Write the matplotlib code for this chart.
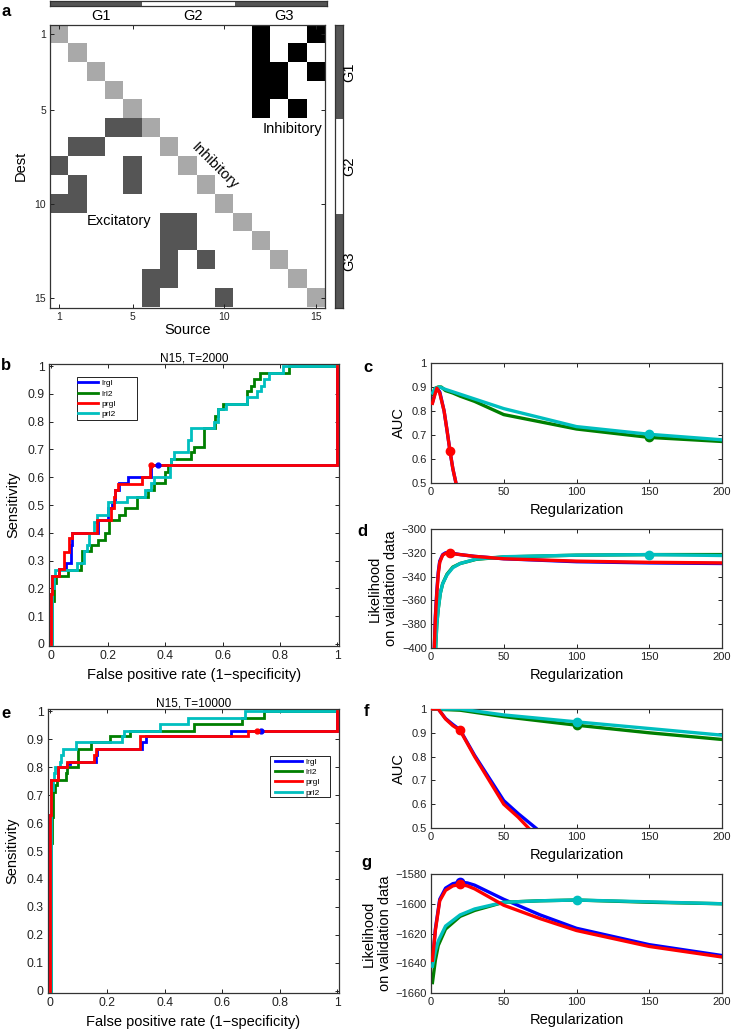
import matplotlib
matplotlib.use('Agg')
import matplotlib.pyplot as plt
import numpy as np
from matplotlib.colors import ListedColormap
from matplotlib.patches import Rectangle

plt.rcParams['font.family'] = ['Liberation Sans', 'DejaVu Sans']
plt.rcParams['axes.linewidth'] = 0.9
plt.rcParams['axes.edgecolor'] = '#333333'

# ---------------- data ----------------
n_nodes = 15
excitatory = [(6, 4), (6, 5), (7, 2), (7, 3), (8, 1), (8, 5), (9, 2), (9, 5), (10, 1), (10, 2),
              (11, 7), (11, 8), (12, 7), (12, 8), (13, 7), (13, 9), (14, 6), (14, 7), (15, 6), (15, 10)]
inhibitory = [(1, 12), (1, 15), (2, 12), (2, 14), (3, 12), (3, 13), (3, 15), (4, 12), (4, 13),
              (5, 12), (5, 14)]
groups = ['G1', 'G2', 'G3']
group_edges = [0.5, 5.5, 10.5, 15.5]
group_colors = ['#555555', 'white', '#555555']

series = ['lrgl', 'lrl2', 'prgl', 'prl2']
colors = {'lrgl': '#0000ff', 'lrl2': '#007f00', 'prgl': '#ff0000', 'prl2': '#00bfbf'}

# ROC, T=2000 (steps-post vertices)
roc1_x = {
    'lrgl': [0, 0, 0.005, 0.03, 0.055, 0.07, 0.075, 0.165, 0.2, 0.215, 0.225, 0.237, 0.268, 0.35, 1.0],
    'lrl2': [0, 0.005, 0.012, 0.02, 0.06, 0.105, 0.11, 0.14, 0.165, 0.19, 0.205, 0.24, 0.26, 0.30, 0.34,
             0.36, 0.40, 0.41, 0.42, 0.49, 0.50, 0.535, 0.575, 0.585, 0.60, 0.685, 0.70, 0.71, 0.73, 0.83, 1.0],
    'prgl': [0, 0, 0.005, 0.03, 0.045, 0.065, 0.075, 0.16, 0.212, 0.22, 0.225, 0.235, 0.32, 0.345, 1.0],
    'prl2': [0, 0.005, 0.01, 0.015, 0.09, 0.115, 0.125, 0.135, 0.15, 0.16, 0.2, 0.265, 0.33, 0.35, 0.36,
             0.415, 0.42, 0.43, 0.48, 0.49, 0.57, 0.585, 0.61, 0.685, 0.72, 0.735, 0.745, 0.76, 0.81, 1.0],
}
roc1_y = {
    'lrgl': [0, 0.18, 0.245, 0.27, 0.29, 0.355, 0.40, 0.445, 0.49, 0.51, 0.555, 0.58, 0.60, 0.645, 1.0],
    'lrl2': [0, 0.155, 0.22, 0.245, 0.265, 0.29, 0.335, 0.355, 0.375, 0.40, 0.445, 0.465, 0.49, 0.53, 0.555,
             0.58, 0.62, 0.645, 0.665, 0.69, 0.71, 0.778, 0.822, 0.845, 0.865, 0.91, 0.93, 0.955, 0.975, 1.0, 1.0],
    'prgl': [0, 0.18, 0.245, 0.27, 0.33, 0.38, 0.40, 0.445, 0.49, 0.53, 0.555, 0.575, 0.60, 0.645, 1.0],
    'prl2': [0, 0.2, 0.245, 0.265, 0.29, 0.335, 0.355, 0.40, 0.44, 0.465, 0.51, 0.53, 0.555, 0.58, 0.60,
             0.645, 0.665, 0.69, 0.735, 0.778, 0.80, 0.845, 0.865, 0.89, 0.91, 0.93, 0.955, 0.975, 1.0, 1.0],
}
roc1_pts = {'lrgl': (0.375, 0.645), 'prgl': (0.35, 0.645)}

# ROC, T=10000
roc2_x = {
    'lrgl': [0, 0, 0.003, 0.03, 0.06, 0.07, 0.16, 0.165, 0.32, 0.335, 0.63, 1.0],
    'lrl2': [0, 0.005, 0.008, 0.01, 0.02, 0.025, 0.055, 0.06, 0.1, 0.1, 0.145, 0.21, 0.28, 0.5, 0.67, 0.745, 1.0],
    'prgl': [0, 0, 0.003, 0.03, 0.06, 0.155, 0.16, 0.315, 0.69, 1.0],
    'prl2': [0, 0.003, 0.005, 0.01, 0.012, 0.015, 0.02, 0.035, 0.04, 0.045, 0.09, 0.25, 0.26, 0.385, 0.48,
             0.68, 1.0],
}
roc2_y = {
    'lrgl': [0, 0.63, 0.755, 0.80, 0.81, 0.82, 0.845, 0.865, 0.89, 0.91, 0.93, 1.0],
    'lrl2': [0, 0.53, 0.62, 0.71, 0.735, 0.755, 0.78, 0.80, 0.845, 0.865, 0.89, 0.91, 0.93, 0.955, 0.975, 1.0, 1.0],
    'prgl': [0, 0.63, 0.755, 0.80, 0.82, 0.845, 0.865, 0.91, 0.93, 1.0],
    'prl2': [0, 0.6, 0.72, 0.74, 0.755, 0.78, 0.80, 0.82, 0.845, 0.865, 0.89, 0.91, 0.93, 0.955, 0.975,
             1.0, 1.0],
}
roc2_pts = {'lrgl': (0.735, 0.93), 'prgl': (0.72, 0.93)}

# AUC vs regularization, T=2000
auc1_x = {
    'lrgl': [1, 3, 4, 6, 9, 11, 13, 15, 17.5],
    'lrl2': [1, 3, 5, 7, 10, 15, 20, 30, 50, 75, 100, 150, 200],
    'prgl': [1, 3, 4, 6, 9, 11, 13, 15, 17.5],
    'prl2': [1, 3, 6, 10, 20, 50, 100, 150, 200],
}
auc1_y = {
    'lrgl': [0.835, 0.88, 0.895, 0.88, 0.80, 0.72, 0.635, 0.56, 0.49],
    'lrl2': [0.87, 0.895, 0.90, 0.90, 0.885, 0.875, 0.862, 0.84, 0.785, 0.755, 0.725, 0.69, 0.673],
    'prgl': [0.832, 0.875, 0.895, 0.875, 0.80, 0.72, 0.635, 0.56, 0.49],
    'prl2': [0.875, 0.895, 0.90, 0.89, 0.87, 0.81, 0.735, 0.703, 0.68],
}
auc1_pts = {'prgl': (13, 0.635), 'lrl2': (150, 0.69), 'prl2': (150, 0.703)}

# Likelihood, T=2000
lik1_x = {
    'lrgl': [2, 3, 4, 5, 6, 8, 10, 13, 20, 30, 50, 100, 150, 200],
    'lrl2': [2.8, 4, 5, 6.4, 8, 11, 15, 20, 31, 50, 100, 150, 200],
    'prgl': [2, 3, 4, 5, 6, 8, 10, 13, 20, 30, 50, 100, 150, 200],
    'prl2': [2.8, 4, 5, 6.4, 8, 11, 15, 20, 31, 50, 100, 150, 200],
}
lik1_y = {
    'lrgl': [-410, -373, -352, -336, -327, -321.5, -320, -320, -321.5, -323, -325, -327.5, -328.5, -329],
    'lrl2': [-410, -380, -367, -354, -346, -338, -332, -329, -325.5, -323.5, -322, -321.5, -321.5],
    'prgl': [-410, -375, -354, -338, -328, -322, -320.5, -320.5, -321.5, -323, -325, -327, -328, -328.5],
    'prl2': [-410, -380, -367, -354, -346, -338.5, -332.5, -329, -325.3, -323.3, -322, -321.5, -322.3],
}
lik1_pts = {'prgl': (13, -320.5), 'prl2': (150, -321.5)}

# AUC, T=10000
auc2_x = {
    'lrgl': [0, 5, 10, 15, 20, 30, 40, 50, 60, 72],
    'lrl2': [0, 20, 50, 100, 150, 200],
    'prgl': [0, 5, 10, 15, 20, 30, 40, 50, 60, 67],
    'prl2': [0, 20, 50, 100, 150, 200],
}
auc2_y = {
    'lrgl': [1.0, 1.0, 0.96, 0.935, 0.912, 0.805, 0.71, 0.615, 0.56, 0.5],
    'lrl2': [1.0, 0.995, 0.968, 0.932, 0.90, 0.872],
    'prgl': [1.0, 1.0, 0.958, 0.93, 0.91, 0.80, 0.70, 0.60, 0.545, 0.5],
    'prl2': [1.0, 1.0, 0.975, 0.946, 0.918, 0.89],
}
auc2_pts = {'prgl': (20, 0.91), 'lrl2': (100, 0.932), 'prl2': (100, 0.947)}

# Likelihood, T=10000
lik2_x = {
    'lrgl': [1, 3, 6, 10, 15, 20, 25, 30, 50, 75, 100, 150, 200],
    'lrl2': [1, 3, 5, 10, 20, 30, 50, 75, 100, 150, 200],
    'prgl': [1, 3, 6, 10, 15, 20, 25, 30, 50, 75, 100, 150, 200],
    'prl2': [1, 3, 5, 10, 20, 30, 50, 75, 100, 150, 200],
}
lik2_y = {
    'lrgl': [-1640, -1617, -1597, -1589.5, -1586.5, -1585.5, -1586, -1587.5, -1597, -1607.5, -1616.5, -1627.5, -1634.8],
    'lrl2': [-1653, -1638, -1628, -1617, -1608.5, -1604.5, -1599, -1598, -1597.5, -1599, -1600],
    'prgl': [-1638, -1618, -1598, -1591, -1588, -1587, -1588, -1590, -1601, -1610, -1618, -1628.7, -1635.8],
    'prl2': [-1642, -1632, -1625, -1615, -1607.5, -1603.5, -1599, -1598, -1597.5, -1598.7, -1600],
}
lik2_pts = {'lrgl': (20, -1585.5), 'prgl': (20, -1587), 'prl2': (100, -1597.5)}

# ---------------- figure ----------------
W, H = 733, 1031
fig = plt.figure(figsize=(W / 100, H / 100), dpi=100)


def add_ax(x0, y0, x1, y1):
    return fig.add_axes([x0 / W, 1 - y1 / H, (x1 - x0) / W, (y1 - y0) / H])


def ftext(x, y, s, **kw):
    fig.text(x / W, 1 - y / H, s, **kw)


def style(ax, size=8):
    ax.tick_params(direction='in', top=True, right=True, length=3, width=0.7,
                   labelsize=size, colors='#222222', pad=3)


# ---- panel a ----
M = np.zeros((n_nodes, n_nodes))
for i in range(n_nodes):
    M[i, i] = 1
for d, s in excitatory:
    M[d - 1, s - 1] = 2
for d, s in inhibitory:
    M[d - 1, s - 1] = 3
axa = add_ax(50, 25, 325, 307.5)
axa.imshow(M, cmap=ListedColormap(['white', '#a9a9a9', '#555555', 'black']), vmin=0, vmax=3,
           extent=(0.5, 15.5, 15.5, 0.5), aspect='auto', interpolation='nearest')
axa.set_xticks([1, 5, 10, 15])
axa.set_yticks([1, 5, 10, 15])
style(axa, 7.5)
axa.set_xlabel('Source', fontsize=10.5, labelpad=1)
axa.set_ylabel('Dest', fontsize=10.5, labelpad=5)
axa.text(13.75, 6.0, 'Inhibitory', fontsize=10.5, ha='center', va='center')
axa.text(9.5, 8.0, 'Inhibitory', fontsize=10.5, ha='center', va='center', rotation=-45)
axa.text(4.25, 10.9, 'Excitatory', fontsize=10.5, ha='center', va='center')

axt = add_ax(50, 0.5, 327, 6)
for k in range(3):
    axt.axvspan(group_edges[k], group_edges[k + 1], color=group_colors[k], lw=0)
axt.set_xlim(0.5, 15.5)
axt.set_xticks([]); axt.set_yticks([])
axr = add_ax(335, 25, 343, 308)
for k in range(3):
    axr.axhspan(group_edges[k], group_edges[k + 1], color=group_colors[k], lw=0)
axr.set_ylim(15.5, 0.5)
axr.set_xticks([]); axr.set_yticks([])
for k, g in enumerate(groups):
    cx = 50 + (group_edges[k] + group_edges[k + 1] - 1) / 2 / 15 * 275
    ftext(cx + 5, 15.5, g, fontsize=10.5, ha='center', va='center')
    cy = 25 + (group_edges[k] + group_edges[k + 1] - 1) / 2 / 15 * 283
    ftext(349, cy, g, fontsize=10.5, ha='center', va='center', rotation=90)


# ---- ROC panels ----
def roc_panel(box, xs, ys, pts, title, frame, anchor, hlen):
    ax = add_ax(*box)
    z = {'lrgl': 2, 'lrl2': 2, 'prgl': 4, 'prl2': 3}
    for s in series:
        ax.plot(xs[s], ys[s], drawstyle='steps-post', color=colors[s], lw=2.0, label=s, zorder=z[s],
                solid_joinstyle='miter')
    for s, (px, py) in pts.items():
        ax.plot(px, py, 'o', color=colors[s], ms=3.5, zorder=5)
    ax.set_xlim(-0.006, 1.006)
    ax.set_ylim(-0.008, 1.008)
    ax.set_xticks([0, 0.2, 0.4, 0.6, 0.8, 1])
    ax.set_xticklabels(['0', '0.2', '0.4', '0.6', '0.8', '1'])
    ax.set_yticks(np.arange(0, 1.01, 0.1))
    ax.set_yticklabels(['0'] + ['%.1f' % v for v in np.arange(0.1, 0.95, 0.1)] + ['1'])
    style(ax, 8.7)
    ax.set_title(title, fontsize=8.5, pad=2)
    ax.set_xlabel('False positive rate (1\u2212specificity)', fontsize=10.5, labelpad=4)
    ax.set_ylabel('Sensitivity', fontsize=10.5, labelpad=5)
    fx0, fy0, fx1, fy1 = frame
    ax.add_patch(Rectangle((fx0, fy0), fx1 - fx0, fy1 - fy0, transform=ax.transAxes,
                           facecolor='white', edgecolor='black', lw=0.6, zorder=8))
    leg = ax.legend(loc='upper left', bbox_to_anchor=anchor, fontsize=6, frameon=False,
                    borderpad=0, handlelength=hlen, labelspacing=0.3, handletextpad=0.4,
                    borderaxespad=0)
    leg.set_zorder(9)
    for line in leg.get_lines():
        line.set_linewidth(2.0)
    return ax


roc_panel((49, 364, 339, 646), roc1_x, roc1_y, roc1_pts, 'N15, T=2000',
          (0.0966, 0.801, 0.303, 0.954), (0.1, 0.945), 2.4)
roc_panel((48, 709, 339, 993), roc2_x, roc2_y, roc2_pts, 'N15, T=10000',
          (0.763, 0.690, 0.969, 0.835), (0.78, 0.828), 3.2)


# ---- regularization panels ----
def reg_panel(box, xs, ys, pts, ylim, yticks, ylabel, yfmt, lpad=4):
    ax = add_ax(*box)
    z = {'lrgl': 2, 'lrl2': 2, 'prgl': 4, 'prl2': 3}
    for s in series:
        ax.plot(xs[s], ys[s], color=colors[s], lw=2.4, zorder=z[s])
    for s, (px, py) in pts.items():
        ax.plot(px, py, 'o', color=colors[s], ms=6, zorder=5)
    ax.set_xlim(0, 200)
    ax.set_ylim(*ylim)
    ax.set_xticks([0, 50, 100, 150, 200])
    ax.set_yticks(yticks)
    ax.set_yticklabels([yfmt(v) for v in yticks])
    style(ax, 8)
    ax.set_xlabel('Regularization', fontsize=10.5, labelpad=4)
    ax.set_ylabel(ylabel, fontsize=10.5, labelpad=lpad, multialignment='center')
    return ax


def auc_fmt(v):
    return '1' if abs(v - 1) < 1e-9 else '%.1f' % v


def int_fmt(v):
    return ('%d' % v).replace('-', '\u2212')


reg_panel((431, 363, 722, 483), auc1_x, auc1_y, auc1_pts, (0.5, 1.0),
          [0.5, 0.6, 0.7, 0.8, 0.9, 1.0], 'AUC', auc_fmt)
reg_panel((431, 529, 722, 648), lik1_x, lik1_y, lik1_pts, (-400, -300),
          [-400, -380, -360, -340, -320, -300], 'Likelihood\non validation data', int_fmt, 2.5)
reg_panel((431, 709, 722, 828), auc2_x, auc2_y, auc2_pts, (0.5, 1.0),
          [0.5, 0.6, 0.7, 0.8, 0.9, 1.0], 'AUC', auc_fmt)
reg_panel((431, 874, 722, 993), lik2_x, lik2_y, lik2_pts, (-1660, -1580),
          [-1660, -1640, -1620, -1600, -1580], 'Likelihood\non validation data', int_fmt, 2.5)

# panel letters
for (x, y, s) in [(6, 12, 'a'), (6, 366, 'b'), (368, 367, 'c'), (362, 531, 'd'),
                  (6, 714, 'e'), (366, 711, 'f'), (366, 862, 'g')]:
    ftext(x, y, s, fontsize=12, fontweight='bold', ha='center', va='center')

fig.savefig('out.png', dpi=100)
